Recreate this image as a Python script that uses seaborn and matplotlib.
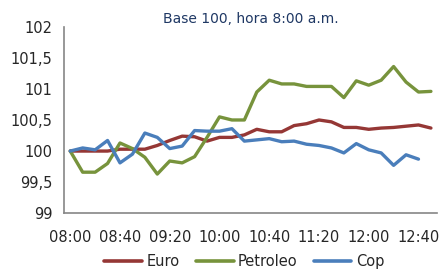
import numpy as np
import pandas as pd
import seaborn as sns
import matplotlib
matplotlib.use("Agg")
import matplotlib.pyplot as plt
from matplotlib.ticker import FixedLocator, FuncFormatter

# time slots every 10 minutes, 08:00 .. 12:50
times = ["08:00", "08:10", "08:20", "08:30", "08:40", "08:50", "09:00", "09:10", "09:20", "09:30",
         "09:40", "09:50", "10:00", "10:10", "10:20", "10:30", "10:40", "10:50", "11:00", "11:10",
         "11:20", "11:30", "11:40", "11:50", "12:00", "12:10", "12:20", "12:30", "12:40", "12:50"]

euro = [100.00, 100.00, 100.00, 100.00, 100.03, 100.03, 100.03, 100.09, 100.17, 100.24,
        100.23, 100.16, 100.22, 100.22, 100.26, 100.35, 100.31, 100.31, 100.41, 100.44,
        100.50, 100.47, 100.38, 100.38, 100.35, 100.37, 100.38, 100.40, 100.42, 100.37]

petroleo = [100.00, 99.66, 99.66, 99.80, 100.13, 100.04, 99.90, 99.63, 99.84, 99.81,
            99.91, 100.22, 100.55, 100.50, 100.50, 100.95, 101.14, 101.08, 101.08, 101.04,
            101.04, 101.04, 100.86, 101.13, 101.06, 101.14, 101.36, 101.11, 100.95, 100.96]

cop = [100.00, 100.05, 100.02, 100.17, 99.81, 99.95, 100.29, 100.22, 100.04, 100.08,
       100.33, 100.32, 100.32, 100.36, 100.16, 100.18, 100.20, 100.15, 100.16, 100.11,
       100.09, 100.05, 99.97, 100.12, 100.02, 99.97, 99.77, 99.94, 99.87, np.nan]

series = ["Euro", "Petroleo", "Cop"]
colors = ["#953735", "#77933C", "#4A7EBB"]

df = pd.DataFrame({"pos": np.arange(len(times)), "Euro": euro, "Petroleo": petroleo, "Cop": cop})
long = df.melt(id_vars="pos", value_vars=series, var_name="serie", value_name="valor").dropna()

sns.set_style("white")
plt.rcParams["font.family"] = ["DejaVu Sans"]

fig = plt.figure(figsize=(4.4, 2.73), dpi=100)
ax = fig.add_axes([0.1455, 0.219, 0.848, 0.683])

sns.lineplot(data=long, x="pos", y="valor", hue="serie", hue_order=series,
             palette=colors, linewidth=2.4, sort=False, ax=ax, legend=False)

ax.set_xlim(-0.5, len(times) - 0.5)
ax.set_ylim(99, 102)
ax.set_xlabel("")
ax.set_ylabel("")

# labels every 40 min, tick marks between categories
ax.xaxis.set_major_locator(FixedLocator(range(0, len(times), 4)))
ax.set_xticklabels(times[::4])
ax.xaxis.set_minor_locator(FixedLocator(np.arange(-0.5, len(times), 1)))
ax.tick_params(axis="x", which="major", length=0, pad=12, labelsize=10.5, labelcolor="#262626")
ax.tick_params(axis="x", which="minor", length=4.5, width=1, color="#868686", direction="out")

ax.set_yticks([99, 99.5, 100, 100.5, 101, 101.5, 102])
ax.yaxis.set_major_formatter(FuncFormatter(lambda v, p: f"{v:g}".replace(".", ",")))
ax.tick_params(axis="y", length=4.5, width=1, color="#868686", direction="out", pad=4,
               labelsize=10.5, labelcolor="#262626")

for s in ["top", "right"]:
    ax.spines[s].set_visible(False)
for s in ["left", "bottom"]:
    ax.spines[s].set_color("#868686")
    ax.spines[s].set_linewidth(1.2)

ax.set_title("Base 100, hora 8:00 a.m.", fontsize=10, color="#1F3864", pad=3)

handles = [plt.Line2D([], [], color=c, linewidth=2.6) for c in colors]
fig.legend(handles, series, loc="center", bbox_to_anchor=(0.555, 0.042), ncol=3,
           frameon=False, fontsize=10.5, handlelength=2.6, handletextpad=0.3,
           columnspacing=1.1, labelcolor="#262626")

fig.savefig("out.png", dpi=100)
